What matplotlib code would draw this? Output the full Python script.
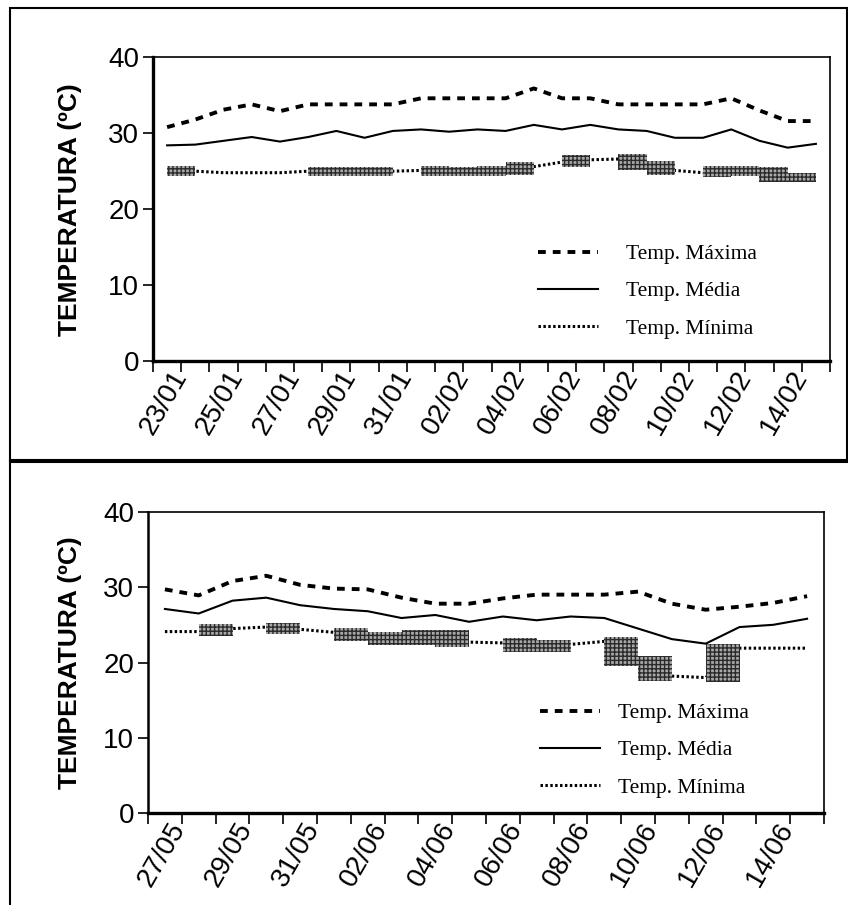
import matplotlib
matplotlib.use('Agg')
import matplotlib.pyplot as plt
import numpy as np
from matplotlib.lines import Line2D
from matplotlib.patches import Rectangle
import matplotlib.transforms as mtransforms

plt.rcParams['font.family'] = ['Liberation Sans', 'DejaVu Sans']
plt.rcParams['hatch.linewidth'] = 1.0

# ---------------- data ----------------
top_dates = ['23/01', '24/01', '25/01', '26/01', '27/01', '28/01', '29/01', '30/01',
             '31/01', '01/02', '02/02', '03/02', '04/02', '05/02', '06/02', '07/02',
             '08/02', '09/02', '10/02', '11/02', '12/02', '13/02', '14/02', '15/02']
top_max = [30.8, 31.8, 33.1, 33.8, 32.9, 33.8, 33.8, 33.8, 33.8, 34.6, 34.6, 34.6,
           34.6, 35.9, 34.6, 34.6, 33.8, 33.8, 33.8, 33.8, 34.6, 33.0, 31.6, 31.6]
top_med = [28.4, 28.5, 29.0, 29.5, 28.9, 29.5, 30.3, 29.4, 30.3, 30.5, 30.2, 30.5,
           30.3, 31.1, 30.5, 31.1, 30.5, 30.3, 29.4, 29.4, 30.5, 29.0, 28.1, 28.6]
top_min = [25.1, 25.0, 24.8, 24.8, 24.8, 25.0, 25.0, 25.0, 25.0, 25.1, 25.0, 25.0,
           25.1, 25.6, 26.2, 26.5, 26.6, 25.8, 25.1, 24.8, 25.1, 25.0, 24.2, 24.2]
top_blocks = [0, 5, 6, 7, 9, 10, 11, 12, 14, 16, 17, 19, 20, 21, 22]

bot_dates = ['27/05', '28/05', '29/05', '30/05', '31/05', '01/06', '02/06', '03/06',
             '04/06', '05/06', '06/06', '07/06', '08/06', '09/06', '10/06', '11/06',
             '12/06', '13/06', '14/06', '15/06']
bot_max = [29.7, 28.9, 30.8, 31.5, 30.3, 29.8, 29.7, 28.6, 27.8, 27.8, 28.5, 29.0,
           29.0, 29.0, 29.4, 27.8, 27.0, 27.4, 27.9, 28.8]
bot_med = [27.1, 26.5, 28.2, 28.6, 27.6, 27.1, 26.8, 25.9, 26.3, 25.4, 26.1, 25.6,
           26.1, 25.9, 24.5, 23.1, 22.5, 24.7, 25.0, 25.8]
bot_min = [24.1, 24.1, 24.5, 24.7, 24.4, 24.0, 23.4, 22.9, 23.7, 22.7, 22.6, 22.0,
           22.4, 22.8, 20.2, 18.2, 18.0, 21.9, 21.9, 21.9]
bot_blocks = [1, 3, 5, 6, 7, 8, 10, 11, 13, 14, 16]

labels = ['Temp. Máxima', 'Temp. Média', 'Temp. Mínima']
ylabel = 'TEMPERATURA (ºC)'

W, H = 848, 905
fig = plt.figure(figsize=(W / 100, H / 100), dpi=100)


def px_rect(x0, y0, x1, y1):
    return [x0 / W, 1 - y1 / H, (x1 - x0) / W, (y1 - y0) / H]


def panel(rect, dates, tmax, tmed, tmin, blocks, leg_xy, textpad, left_lw, ylab_x):
    ax = fig.add_axes(rect)
    x = np.arange(len(dates))
    ax.plot(x, tmax, color='black', lw=2.8, linestyle=(0, (2.0, 1.8)),
            dash_capstyle='butt', label=labels[0], zorder=3)
    ax.plot(x, tmed, color='black', lw=1.5, label=labels[1], zorder=3)
    ax.plot(x, tmin, color='black', lw=2.2, linestyle=(0, (0.8, 0.8)),
            dash_capstyle='butt', label=labels[2], zorder=3)
    pad = 0.6
    for i in blocks:
        lo = min(tmin[i], tmin[i + 1]) - pad
        hi = max(tmin[i], tmin[i + 1]) + pad
        ax.fill_between([x[i], x[i + 1]], lo, hi, facecolor='#a8a8a8',
                        edgecolor='#2a2a2a', hatch='++++', linewidth=0, zorder=4)
    ax.set_xlim(-0.5, len(dates) - 0.5)
    ax.set_ylim(0, 40)
    ax.set_yticks([0, 10, 20, 30, 40])
    ax.tick_params(axis='y', labelsize=20, length=7, width=1.2, direction='out', pad=3)
    ax.set_xticks(np.arange(len(dates) + 1) - 0.5)
    ax.set_xticklabels([])
    ax.tick_params(axis='x', which='major', length=8, width=1.2, direction='out')
    ax.set_xticks(x[::2], [dates[i] for i in x[::2]], minor=True)
    ax.tick_params(axis='x', which='minor', length=0, labelsize=20, pad=8)
    off = mtransforms.ScaledTranslation(14 / 100, 0, fig.dpi_scale_trans)
    for lab in ax.get_xticklabels(minor=True):
        lab.set_rotation(60)
        lab.set_ha('right')
        lab.set_va('center')
        lab.set_rotation_mode('anchor')
        lab.set_transform(lab.get_transform() + off)
    for s in ['top', 'right']:
        ax.spines[s].set_linewidth(1.2)
    ax.spines['left'].set_linewidth(left_lw)
    ax.spines['bottom'].set_linewidth(2.4)
    ax.set_ylabel(ylabel, fontsize=19, fontweight='bold')
    ax.yaxis.set_label_coords(ylab_x, 0.5)
    ax.legend(loc='upper left', bbox_to_anchor=leg_xy, bbox_transform=fig.transFigure,
              frameon=False, prop={'family': 'Liberation Serif', 'size': 15.5},
              handlelength=2.8, handletextpad=textpad, labelspacing=0.8,
              borderpad=0, borderaxespad=0)
    return ax


panel(px_rect(153, 57.3, 830, 361), top_dates, top_max, top_med, top_min, top_blocks,
      (538 / W, 1 - 244 / H), 1.3, 2.4, -0.105)
panel(px_rect(148, 511.7, 824, 813.3), bot_dates, bot_max, bot_med, bot_min, bot_blocks,
      (540 / W, 1 - 703 / H), 0.8, 1.8, -0.097)

# outer frames
fig.add_artist(Rectangle((10 / W, 1 - 460 / H), (847 - 10) / W, (460 - 8) / H,
                         transform=fig.transFigure, fill=False, lw=1.5, ec='black'))
fig.add_artist(Line2D([10 / W, 10 / W], [0, 1 - 460 / H], transform=fig.transFigure,
                      lw=1.5, color='black'))
fig.add_artist(Line2D([10 / W, 1], [1 - 461 / H, 1 - 461 / H], transform=fig.transFigure,
                      lw=2.2, color='black'))

fig.savefig('out.png', dpi=100)
